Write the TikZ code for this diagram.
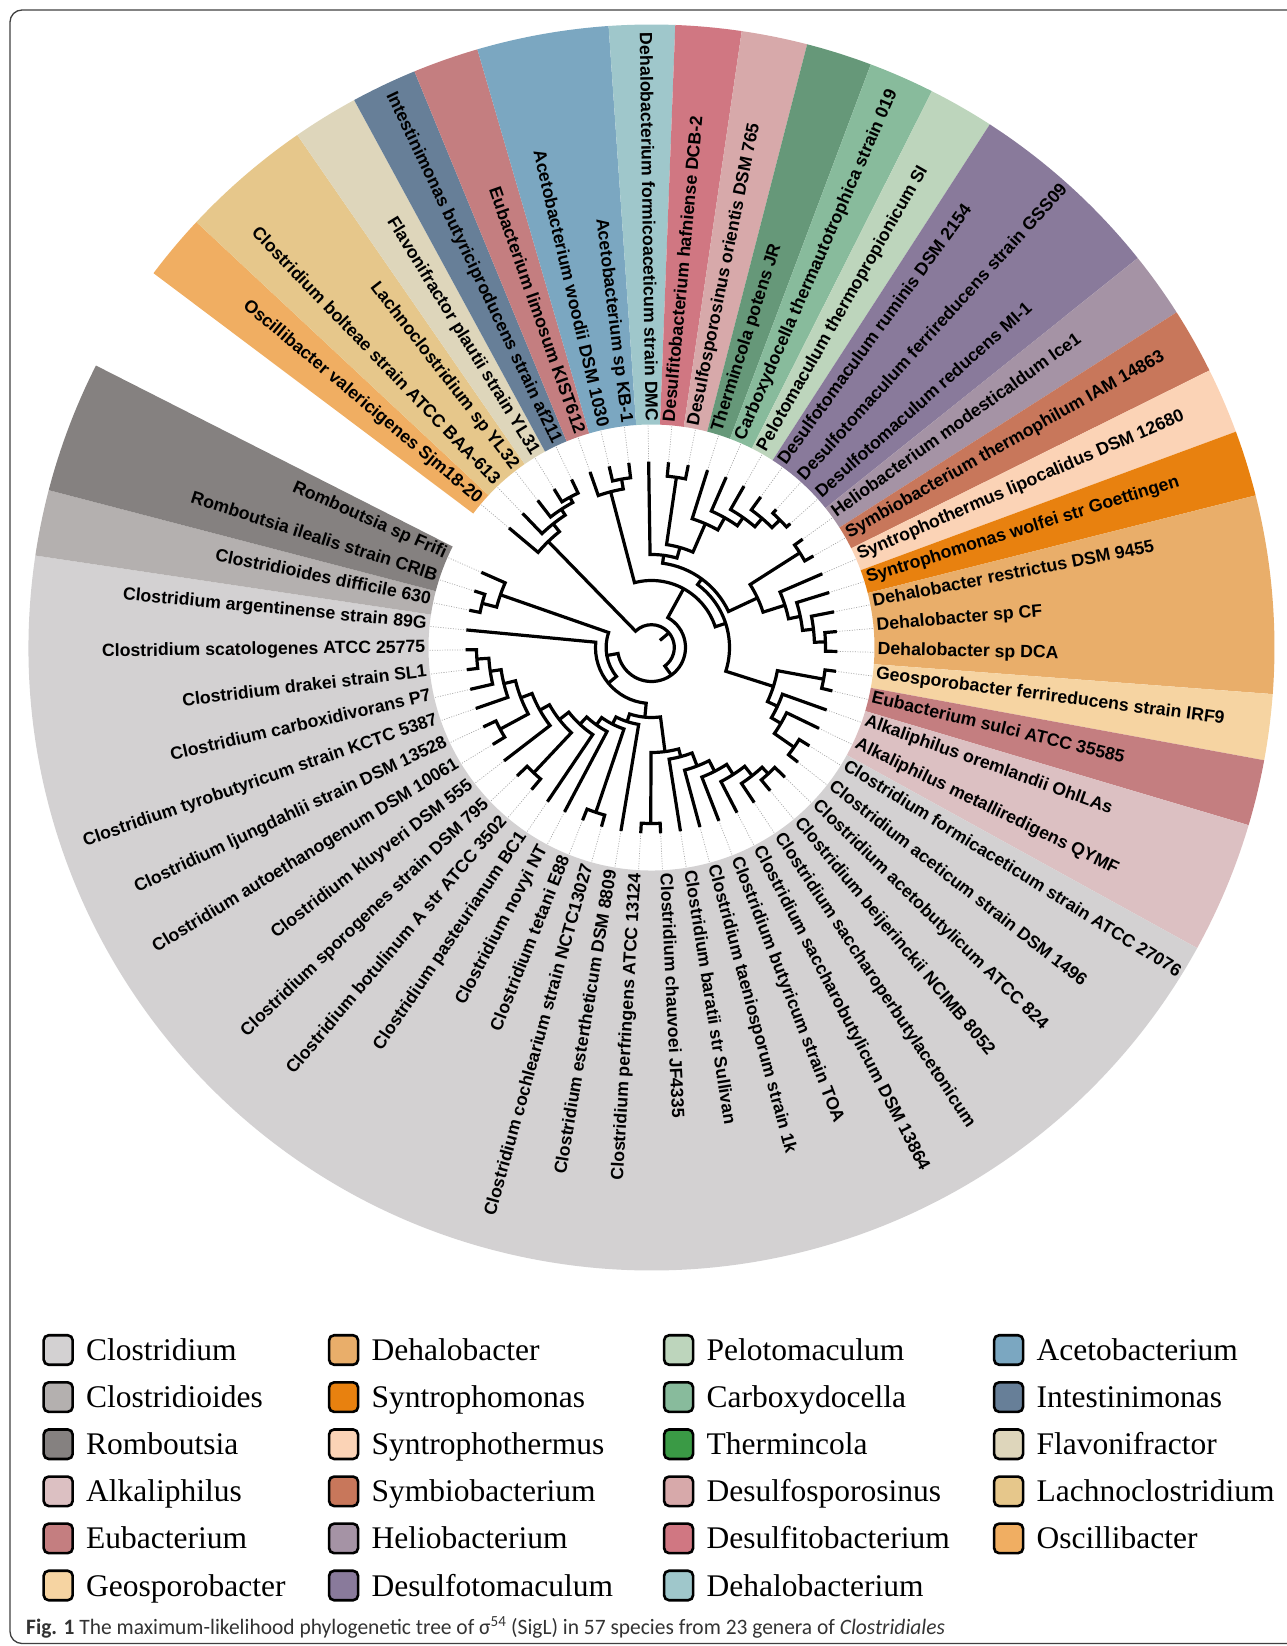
\documentclass[tikz,border=0pt]{standalone}
\usepackage{fontspec}
\setmainfont{Liberation Serif}
\setsansfont{Liberation Sans}
\newfontfamily\capfont{Carlito}
\usepackage{graphicx}
\usetikzlibrary{positioning}

% genus colours
\definecolor{colClostridium}{HTML}{D3D1D2}
\definecolor{colClostridioides}{HTML}{B4B0AF}
\definecolor{colRomboutsia}{HTML}{858180}
\definecolor{colAlkaliphilus}{HTML}{DCC0C2}
\definecolor{colEubacterium}{HTML}{C47E80}
\definecolor{colGeosporobacter}{HTML}{F6D4A2}
\definecolor{colDehalobacter}{HTML}{E9AE6A}
\definecolor{colSyntrophomonas}{HTML}{E8810F}
\definecolor{colSyntrophothermus}{HTML}{FBD3B6}
\definecolor{colSymbiobacterium}{HTML}{C8775B}
\definecolor{colHeliobacterium}{HTML}{A593A5}
\definecolor{colDesulfotomaculum}{HTML}{897A9B}
\definecolor{colPelotomaculum}{HTML}{BDD5BC}
\definecolor{colCarboxydocella}{HTML}{88BB9C}
\definecolor{colThermincola}{HTML}{669879}
\definecolor{legThermincola}{HTML}{3A9A45}
\definecolor{colDesulfosporosinus}{HTML}{D7A9AA}
\definecolor{colDesulfitobacterium}{HTML}{D07782}
\definecolor{colDehalobacterium}{HTML}{9FC7CB}
\definecolor{colAcetobacterium}{HTML}{7BA7C1}
\definecolor{colIntestinimonas}{HTML}{677F98}
\definecolor{colFlavonifractor}{HTML}{DED6BB}
\definecolor{colLachnoclostridium}{HTML}{E6C78B}
\definecolor{colOscillibacter}{HTML}{F0AE62}

% one clade: node radius, first child angle/radius, last child angle/radius
\newcommand{\clade}[5]{%
  \draw[branch] (#2:#3pt) -- (#2:#1pt)
    arc[start angle=#2, end angle=#4, radius=#1pt] -- (#4:#5pt);}

\begin{document}
\begin{tikzpicture}[
    x=1pt, y=1pt,
    branch/.style ={line width=3.2pt, black},
    leafdot/.style={gray!70, line width=0.7pt, dash pattern=on 1pt off 1.5pt},
    leaf/.style   ={font=\sffamily\bfseries\fontsize{17.7}{20}\selectfont,
                    inner sep=0pt},
    swatch/.style ={draw=black, line width=2.6pt, rounded corners=5pt,
                    minimum width=29pt, minimum height=29.5pt, inner sep=0pt},
    legtxt/.style ={font=\fontsize{31.5}{36}\selectfont, inner sep=0pt,
                    text height=21pt, text depth=0pt},
]
\useasboundingbox (-651.5,-998.5) rectangle (635.5,647.5);

% frame
\draw[black!75, line width=1.3pt, rounded corners=12pt]
    (700,637.5) -- (-641.5,637.5) -- (-641.5,-996) -- (700,-996);

% =========================================================
% Genus wedges (leaf i sits at 140 - 6.14 (i-1) degrees)
% =========================================================
\foreach \a/\b/\col in {1/1/colOscillibacter, 2/3/colLachnoclostridium,
    4/4/colFlavonifractor, 5/5/colIntestinimonas, 6/6/colEubacterium,
    7/8/colAcetobacterium, 9/9/colDehalobacterium,
    10/10/colDesulfitobacterium, 11/11/colDesulfosporosinus,
    12/12/colThermincola, 13/13/colCarboxydocella, 14/14/colPelotomaculum,
    15/17/colDesulfotomaculum, 18/18/colHeliobacterium,
    19/19/colSymbiobacterium, 20/20/colSyntrophothermus,
    21/21/colSyntrophomonas, 22/24/colDehalobacter,
    25/25/colGeosporobacter, 26/26/colEubacterium, 27/28/colAlkaliphilus,
    29/54/colClostridium, 55/55/colClostridioides, 56/57/colRomboutsia} {
  \pgfmathsetmacro\s{140-6.14*(\a-1)+3.07}
  \pgfmathsetmacro\e{140-6.14*(\b-1)-3.07}
  \fill[\col] (\s:223pt) arc[start angle=\s, end angle=\e, radius=223pt]
    -- (\e:623pt) arc[start angle=\e, end angle=\s, radius=623pt] -- cycle;
}

% =========================================================
% Leaf labels and dotted leaders
% =========================================================
\foreach \i/\name in {
    1/Oscillibacter valericigenes Sjm18-20,
    2/Clostridium bolteae strain ATCC BAA-613,
    3/Lachnoclostridium sp YL32,
    4/Flavonifractor plautii strain YL31,
    5/Intestinimonas butyriciproducens strain af211,
    6/Eubacterium limosum KIST612,
    7/Acetobacterium woodii DSM 1030,
    8/Acetobacterium sp KB-1,
    9/Dehalobacterium formicoaceticum strain DMC,
    10/Desulfitobacterium hafniense DCB-2,
    11/Desulfosporosinus orientis DSM 765,
    12/Thermincola potens JR,
    13/Carboxydocella thermautotrophica strain 019,
    14/Pelotomaculum thermopropionicum SI,
    15/Desulfotomaculum ruminis DSM 2154,
    16/Desulfotomaculum ferrireducens strain GSS09,
    17/Desulfotomaculum reducens MI-1,
    18/Heliobacterium modesticaldum Ice1,
    19/Symbiobacterium thermophilum IAM 14863,
    20/Syntrophothermus lipocalidus DSM 12680,
    21/Syntrophomonas wolfei str Goettingen,
    22/Dehalobacter restrictus DSM 9455,
    23/Dehalobacter sp CF,
    24/Dehalobacter sp DCA,
    25/Geosporobacter ferrireducens strain IRF9,
    26/Eubacterium sulci ATCC 35585,
    27/Alkaliphilus oremlandii OhILAs,
    28/Alkaliphilus metalliredigens QYMF,
    29/Clostridium formicaceticum strain ATCC 27076,
    30/Clostridium aceticum strain DSM 1496,
    31/Clostridium acetobutylicum ATCC 824,
    32/Clostridium beijerinckii NCIMB 8052,
    33/Clostridium saccharoperbutylacetonicum,
    34/Clostridium saccharobutylicum DSM 13864,
    35/Clostridium butyricum strain TOA,
    36/Clostridium taeniosporum strain 1k,
    37/Clostridium baratii str Sullivan,
    38/Clostridium chauvoei JF4335,
    39/Clostridium perfringens ATCC 13124,
    40/Clostridium estertheticum DSM 8809,
    41/Clostridium cochlearium strain NCTC13027,
    42/Clostridium tetani E88,
    43/Clostridium novyi NT,
    44/Clostridium pasteurianum BC1,
    45/Clostridium botulinum A str ATCC 3502,
    46/Clostridium sporogenes strain DSM 795,
    47/Clostridium kluyveri DSM 555,
    48/Clostridium autoethanogenum DSM 10061,
    49/Clostridium ljungdahlii strain DSM 13528,
    50/Clostridium tyrobutyricum strain KCTC 5387,
    51/Clostridium carboxidivorans P7,
    52/Clostridium drakei strain SL1,
    53/Clostridium scatologenes ATCC 25775,
    54/Clostridium argentinense strain 89G,
    55/Clostridioides difficile 630,
    56/Romboutsia ilealis strain CRIB,
    57/Romboutsia sp Frifi} {
  \pgfmathsetmacro\ang{140-6.14*(\i-1)}
  \pgfmathtruncatemacro\flip{(\ang>90 || \ang<-90) ? 1 : 0}
  \draw[leafdot] (\ang:186pt) -- (\ang:223pt);
  \ifnum\flip=1
    \pgfmathsetmacro\rot{\ang+180}
    \node[leaf, rotate=\rot, anchor=mid east] (lf\i) at (\ang:226pt) {\name};
  \else
    \node[leaf, rotate=\ang, anchor=mid west] (lf\i) at (\ang:226pt) {\name};
  \fi
}

% =========================================================
% Tree (polar cladogram)
% =========================================================
% root and backbone
\draw[branch] (40.005:11pt) -- (40.005:22.8pt);
\clade{22.8}{134.245}{148}{-54.235}{34}
\clade{34}{190.17}{45.4}{421.36}{67}
\clade{45.4}{160.765}{160}{219.57}{56}
\clade{56}{174.58}{186}{264.56}{70}

% Romboutsia / Clostridioides
\clade{160}{156.16}{186}{165.37}{175}
\clade{175}{162.30}{186}{168.44}{186}

% Clostridium
\clade{70}{-108.255}{78}{-82.62}{105}
\clade{78}{-99.46}{186}{-117.05}{86}
\clade{86}{-108.67}{174}{-125.435}{95}
\clade{95}{-117.88}{186}{-132.99}{105}
\clade{105}{-124.02}{186}{-141.96}{117}
\clade{117}{-133.23}{172}{-150.69}{128}
\clade{128}{-142.44}{186}{-158.94}{140}
\clade{140}{-151.65}{172}{-166.23}{152}
\clade{152}{-160.86}{186}{-171.605}{163}
\clade{163}{-167.00}{186}{-176.21}{175}
\clade{175}{-173.14}{186}{-179.28}{186}
\clade{172}{-148.58}{186}{-154.72}{186}
\clade{172}{-130.16}{186}{-136.30}{186}
\clade{174}{-105.60}{186}{-111.74}{186}
\clade{105}{-90.25}{176}{-74.995}{113}
\clade{176}{-87.18}{186}{-93.32}{186}
\clade{113}{-81.04}{186}{-68.95}{127}
\clade{127}{-74.90}{186}{-63.005}{139}
\clade{139}{-68.76}{186}{-57.25}{151}
\clade{151}{-62.62}{186}{-51.875}{163}
\clade{163}{-56.48}{186}{-47.27}{172}
\clade{172}{-44.20}{186}{-50.34}{186}

% upper left
\clade{148}{140}{186}{128.49}{158}
\clade{158}{133.86}{186}{123.115}{165}
\clade{165}{127.72}{186}{118.51}{171}
\clade{171}{121.58}{186}{115.44}{186}

% top and right
\clade{67}{104.695}{161}{18.03}{78}
\clade{161}{109.30}{186}{100.09}{171}
\clade{171}{103.16}{186}{97.02}{186}
\clade{78}{53.78}{85}{-17.72}{128}
\clade{85}{82.485}{93}{25.07}{117}
\clade{93}{90.88}{186}{74.09}{104}
\clade{104}{81.67}{172}{66.51}{135}
\clade{172}{84.74}{186}{78.60}{186}
\clade{135}{72.46}{186}{60.565}{149}
\clade{149}{66.32}{186}{54.81}{159}
\clade{159}{60.18}{186}{49.435}{170}
\clade{170}{54.04}{186}{44.83}{181}
\clade{181}{47.90}{186}{41.76}{186}
\clade{117}{32.55}{176}{17.585}{140}
\clade{176}{35.62}{186}{29.48}{186}
\clade{140}{23.34}{186}{11.83}{152}
\clade{152}{17.20}{186}{6.455}{163}
\clade{163}{11.06}{186}{1.85}{174}
\clade{174}{4.92}{186}{-1.22}{186}
\clade{128}{-10.43}{175}{-25.01}{139}
\clade{175}{-7.36}{186}{-13.50}{186}
\clade{139}{-19.64}{186}{-30.385}{150}
\clade{150}{-25.78}{186}{-34.99}{174}
\clade{174}{-31.92}{186}{-38.06}{186}

% =========================================================
% Legend
% =========================================================
\foreach \name/\col/\sx/\r in {
    Clostridium/colClostridium/-593.3/1,
    Clostridioides/colClostridioides/-593.3/2,
    Romboutsia/colRomboutsia/-593.3/3,
    Alkaliphilus/colAlkaliphilus/-593.3/4,
    Eubacterium/colEubacterium/-593.3/5,
    Geosporobacter/colGeosporobacter/-593.3/6,
    Dehalobacter/colDehalobacter/-307.9/1,
    Syntrophomonas/colSyntrophomonas/-307.9/2,
    Syntrophothermus/colSyntrophothermus/-307.9/3,
    Symbiobacterium/colSymbiobacterium/-307.9/4,
    Heliobacterium/colHeliobacterium/-307.9/5,
    Desulfotomaculum/colDesulfotomaculum/-307.9/6,
    Pelotomaculum/colPelotomaculum/27.1/1,
    Carboxydocella/colCarboxydocella/27.1/2,
    Thermincola/legThermincola/27.1/3,
    Desulfosporosinus/colDesulfosporosinus/27.1/4,
    Desulfitobacterium/colDesulfitobacterium/27.1/5,
    Dehalobacterium/colDehalobacterium/27.1/6,
    Acetobacterium/colAcetobacterium/357.1/1,
    Intestinimonas/colIntestinimonas/357.1/2,
    Flavonifractor/colFlavonifractor/357.1/3,
    Lachnoclostridium/colLachnoclostridium/357.1/4,
    Oscillibacter/colOscillibacter/357.1/5} {
  \node[swatch, fill=\col] (sw\name) at (\sx,{-702.5-47.1*(\r-1)}) {};
  \node[legtxt, right=12pt of sw\name] (lt\name) {\name};
}

% caption
\node[anchor=base west, inner sep=0pt, text=black!80,
      font=\capfont\fontsize{22}{25}\selectfont] (cap) at (-625.5,-986.5)
    {\scalebox{0.975}[1]{\textbf{Fig. 1} The maximum-likelihood phylogenetic tree
     of σ\textsuperscript{54} (SigL) in 57 species from 23 genera of
     \textit{Clostridiales}}};

\end{tikzpicture}
\end{document}
